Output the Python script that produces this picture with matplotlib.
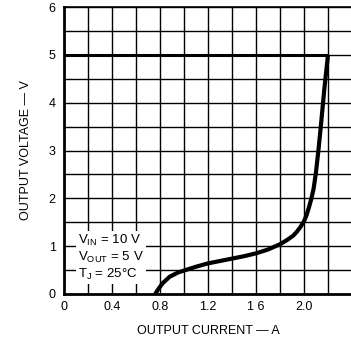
import matplotlib
matplotlib.use("Agg")
import matplotlib.pyplot as plt
import numpy as np

plt.rcParams['font.family'] = ['Liberation Sans', 'DejaVu Sans']
plt.rcParams['mathtext.fontset'] = 'custom'
plt.rcParams['mathtext.rm'] = 'Liberation Sans'

# Data
current_a = [0.76, 0.78, 0.82, 0.88, 0.95, 1.0, 1.1, 1.2, 1.3, 1.4, 1.5, 1.6, 1.7, 1.8, 1.86, 1.91, 1.94, 1.97, 2.0,
             2.02, 2.04, 2.06, 2.08, 2.1, 2.12, 2.14, 2.155, 2.17, 2.185, 2.2]
voltage_v = [0.0, 0.08, 0.22, 0.36, 0.45, 0.49, 0.57, 0.64, 0.69, 0.74, 0.79, 0.85, 0.93, 1.04, 1.13, 1.22, 1.3, 1.4, 1.52,
             1.64, 1.8, 1.98, 2.2, 2.55, 3.0, 3.5, 3.9, 4.3, 4.65, 5.0]
limit_x = [0.0, 2.2]
limit_y = [5.0, 5.0]
xticks = [0, 0.4, 0.8, 1.2, 1.6, 2.0]
xticklabels = ['0', '0.4', '0.8', '1.2', '1 6', '2.0']
yticks = [0, 1, 2, 3, 4, 5, 6]

fig = plt.figure(figsize=(3.51, 3.39), dpi=100)
W, H = 351, 339
left, right, top, bottom = 64, 352, 7, 294
ax = fig.add_axes([left / W, 1 - bottom / H, (right - left) / W, (bottom - top) / H])
ax.set_xlim(0, 2.4)
ax.set_ylim(0, 6)

for x in np.arange(0.2, 2.41, 0.2):
    ax.axvline(x, color='black', lw=1.0, zorder=1)
for y in np.arange(0.5, 6.01, 0.5):
    ax.axhline(y, color='black', lw=1.0, zorder=1)

ax.plot(limit_x, limit_y, color='black', lw=2.2, zorder=3, solid_capstyle='butt')
ax.plot(current_a, voltage_v, color='black', lw=3.0, zorder=3, solid_capstyle='butt')

for s in ['left', 'bottom']:
    ax.spines[s].set_linewidth(2.0)
for s in ['top', 'right']:
    ax.spines[s].set_linewidth(1.2)

ax.set_xticks(xticks)
ax.set_xticklabels(xticklabels)
ax.set_yticks(yticks)
ax.tick_params(length=0, labelsize=9, pad=5)
ax.tick_params(axis='y', pad=6)

ax.set_xlabel('OUTPUT CURRENT — A', fontsize=9, labelpad=9)
ax.set_ylabel('OUTPUT VOLTAGE — V', fontsize=9, labelpad=12)

ax.text(0.115, 0.76,
        'V$_{\\rm IN}$ = 10 V\nV$_{\\rm OUT}$ = 5 V\nT$_{\\rm J}$ = 25°C',
        fontsize=9.5, va='center', ha='left', linespacing=1.15, zorder=4,
        bbox=dict(facecolor='white', edgecolor='none', pad=1.5))

fig.savefig('out.png', dpi=100)
